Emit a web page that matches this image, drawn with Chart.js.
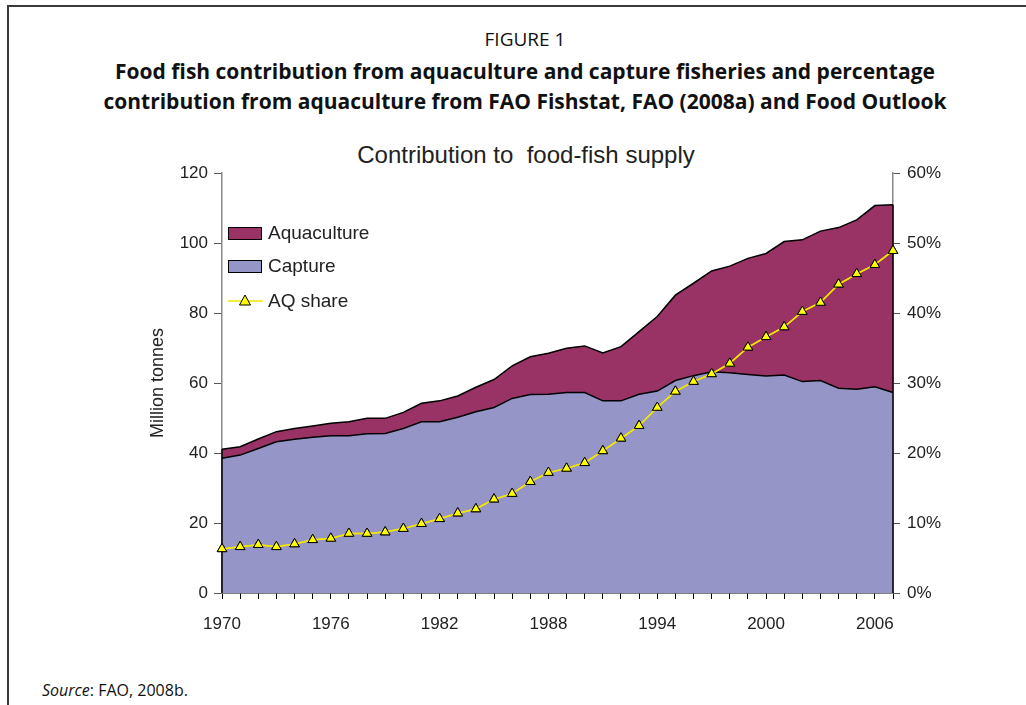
<!DOCTYPE html>
<html>
<head>
<meta charset="utf-8">
<script src="https://cdn.jsdelivr.net/npm/chart.js@4"></script>
<style>
    body { margin: 0; background: #fff; }
    #page { position: relative; width: 1026px; height: 705px; overflow: hidden; }
    #frame { position: absolute; left: 7px; top: 5px; width: 1030px; height: 720px;
             border-top: 2px solid #3a3a3a; border-left: 2px solid #3a3a3a; }
    .head { position: absolute; left: 12px; width: 1026px; text-align: center; font-family: "Open Sans", sans-serif; color: #111; }
    #fig { top: 26px; font-size: 19px; }
    #cap { top: 56px; font-size: 21px; font-weight: bold; line-height: 30px; }
    #title { position: absolute; top: 141px; left: 276px; width: 500px; text-align: center;
             font-family: "Liberation Sans", Arial, sans-serif; font-size: 24px; color: #222; }
    #source { position: absolute; left: 42px; top: 679px; font-family: "Open Sans", sans-serif; font-size: 16px; color: #111; }
    canvas { position: absolute; left: 0; top: 0; }
</style>
</head>
<body>
<div id="page">
    <div id="frame"></div>
    <div class="head" id="fig">FIGURE 1</div>
    <div class="head" id="cap">Food fish contribution from aquaculture and capture fisheries and percentage<br>contribution from aquaculture from FAO Fishstat, FAO (2008a) and Food Outlook</div>
    <div id="title">Contribution to&nbsp; food-fish supply</div>
    <div id="source"><i>Source</i>: FAO, 2008b.</div>
    <canvas id="chart" width="1026" height="705"></canvas>
</div>
<script>
// --- DATA ---
const years = [];
for (let y = 1970; y <= 2007; y++) years.push(String(y));

// million tonnes
const capture = [
    38.5, 39.4, 41.3, 43.2, 43.9, 44.5, 44.9, 44.9, 45.5, 45.6,
    47.0, 48.9, 48.9, 50.2, 51.8, 53.0, 55.6, 56.7, 56.8, 57.3,
    57.3, 54.9, 54.9, 56.8, 57.7, 60.7, 62.1, 63.2, 62.9, 62.4,
    62.0, 62.3, 60.4, 60.7, 58.5, 58.2, 58.9, 57.3
];
const aquaculture = [
    2.6, 2.4, 2.7, 2.9, 3.1, 3.2, 3.6, 4.0, 4.4, 4.3,
    4.6, 5.3, 6.0, 6.1, 7.0, 8.0, 9.3, 10.8, 11.7, 12.6,
    13.3, 13.7, 15.5, 17.9, 21.3, 24.4, 26.4, 28.8, 30.5, 33.2,
    35.0, 38.1, 40.5, 42.7, 45.9, 48.4, 51.8, 53.6
];
// percent
const aqShare = [
    6.3, 6.6, 6.9, 6.6, 7.0, 7.6, 7.8, 8.5, 8.5, 8.7,
    9.2, 9.9, 10.6, 11.4, 12.0, 13.4, 14.2, 15.9, 17.2, 17.8,
    18.6, 20.3, 22.1, 23.9, 26.5, 28.8, 30.2, 31.3, 32.8, 35.1,
    36.6, 38.0, 40.2, 41.5, 44.1, 45.6, 46.9, 48.9
];
const leftTicks = [0, 20, 40, 60, 80, 100, 120];
const rightTicks = [0, 10, 20, 30, 40, 50, 60];

const COLOR_AQ = '#993366';
const COLOR_CAP = '#9595C8';
const FONT = '"Liberation Sans", Arial, sans-serif';

// vertical edges of the stacked area
const edgePlugin = {
    id: 'edges',
    afterDatasetsDraw(chart) {
        const meta = chart.getDatasetMeta(2);
        const pts = [meta.data[0], meta.data[meta.data.length - 1]];
        const ctx = chart.ctx;
        ctx.save();
        ctx.strokeStyle = '#000';
        ctx.lineWidth = 1.5;
        pts.forEach(p => {
            ctx.beginPath();
            ctx.moveTo(p.x, chart.chartArea.bottom);
            ctx.lineTo(p.x, p.y);
            ctx.stroke();
        });
        // redraw share line over the edge
        chart.getDatasetMeta(0).controller.draw();
        ctx.restore();
    }
};

// legend inside the plot
const legendPlugin = {
    id: 'innerLegend',
    afterDraw(chart) {
        const ctx = chart.ctx;
        const x = chart.chartArea.left + 6;
        ctx.save();
        ctx.font = '19px ' + FONT;
        ctx.textBaseline = 'middle';

        const boxes = [
            { label: 'Aquaculture', color: COLOR_AQ, y: 233 },
            { label: 'Capture', color: COLOR_CAP, y: 266 }
        ];
        boxes.forEach(b => {
            ctx.fillStyle = b.color;
            ctx.fillRect(x, b.y - 6, 33, 12);
            ctx.strokeStyle = '#000';
            ctx.lineWidth = 1;
            ctx.strokeRect(x + 0.5, b.y - 6 + 0.5, 33, 12);
            ctx.fillStyle = '#222';
            ctx.fillText(b.label, x + 40, b.y + 1);
        });

        const ly = 301;
        ctx.strokeStyle = '#F2E600';
        ctx.lineWidth = 1.5;
        ctx.beginPath();
        ctx.moveTo(x, ly);
        ctx.lineTo(x + 35, ly);
        ctx.stroke();
        ctx.fillStyle = '#FFFF00';
        ctx.strokeStyle = '#000';
        ctx.lineWidth = 1;
        ctx.beginPath();
        ctx.moveTo(x + 17, ly - 6);
        ctx.lineTo(x + 22.5, ly + 4);
        ctx.lineTo(x + 11.5, ly + 4);
        ctx.closePath();
        ctx.fill();
        ctx.stroke();
        ctx.fillStyle = '#222';
        ctx.fillText('AQ share', x + 40, ly + 1);
        ctx.restore();
    }
};

new Chart(document.getElementById('chart'), {
    type: 'line',
    data: {
        labels: years,
        datasets: [
            {
                label: 'AQ share',
                data: aqShare,
                yAxisID: 'y1',
                borderColor: '#F2E600',
                borderWidth: 1.5,
                pointStyle: 'triangle',
                pointRadius: 5.5,
                pointBackgroundColor: '#FFFF00',
                pointBorderColor: '#000',
                pointBorderWidth: 1,
                fill: false,
                tension: 0
            },
            {
                label: 'Capture',
                data: capture,
                yAxisID: 'y',
                borderColor: '#000',
                borderWidth: 1.5,
                backgroundColor: COLOR_CAP,
                pointRadius: 0,
                fill: 'origin',
                tension: 0
            },
            {
                label: 'Aquaculture',
                data: aquaculture,
                yAxisID: 'y',
                borderColor: '#000',
                borderWidth: 1.5,
                backgroundColor: COLOR_AQ,
                pointRadius: 0,
                fill: '-1',
                tension: 0
            }
        ]
    },
    options: {
        responsive: false,
        animation: false,
        layout: { padding: { left: 140, right: 73, top: 173, bottom: 72 } },
        plugins: { legend: { display: false }, tooltip: { enabled: false } },
        scales: {
            x: {
                offset: false,
                afterFit: s => { s.height = 40; },
                border: { color: '#000', width: 1.5 },
                grid: { drawOnChartArea: false, tickLength: 6, color: '#000' },
                ticks: {
                    autoSkip: false,
                    maxRotation: 0,
                    padding: 15,
                    color: '#222',
                    font: { family: FONT, size: 17 },
                    callback: function (v, i) { return i % 6 === 0 ? years[i] : ''; }
                }
            },
            y: {
                stacked: true,
                min: 0,
                max: 120,
                afterFit: s => { s.width = 82; },
                afterBuildTicks: s => { s.ticks = leftTicks.map(v => ({ value: v })); },
                border: { color: '#888', width: 1.5 },
                grid: { drawOnChartArea: false, tickLength: 8, color: '#555' },
                ticks: { padding: 6, color: '#222', font: { family: FONT, size: 17 } },
                title: {
                    display: true,
                    text: 'Million tonnes',
                    color: '#222',
                    font: { family: FONT, size: 18 },
                    padding: { top: 7, bottom: 0 }
                }
            },
            y1: {
                position: 'right',
                min: 0,
                max: 60,
                afterFit: s => { s.width = 60; },
                afterBuildTicks: s => { s.ticks = rightTicks.map(v => ({ value: v })); },
                border: { color: '#888', width: 1.5 },
                grid: { drawOnChartArea: false, tickLength: 7, color: '#555' },
                ticks: {
                    padding: 7,
                    color: '#222',
                    font: { family: FONT, size: 17 },
                    callback: v => v + '%'
                }
            }
        }
    },
    plugins: [edgePlugin, legendPlugin]
});
</script>
</body>
</html>
